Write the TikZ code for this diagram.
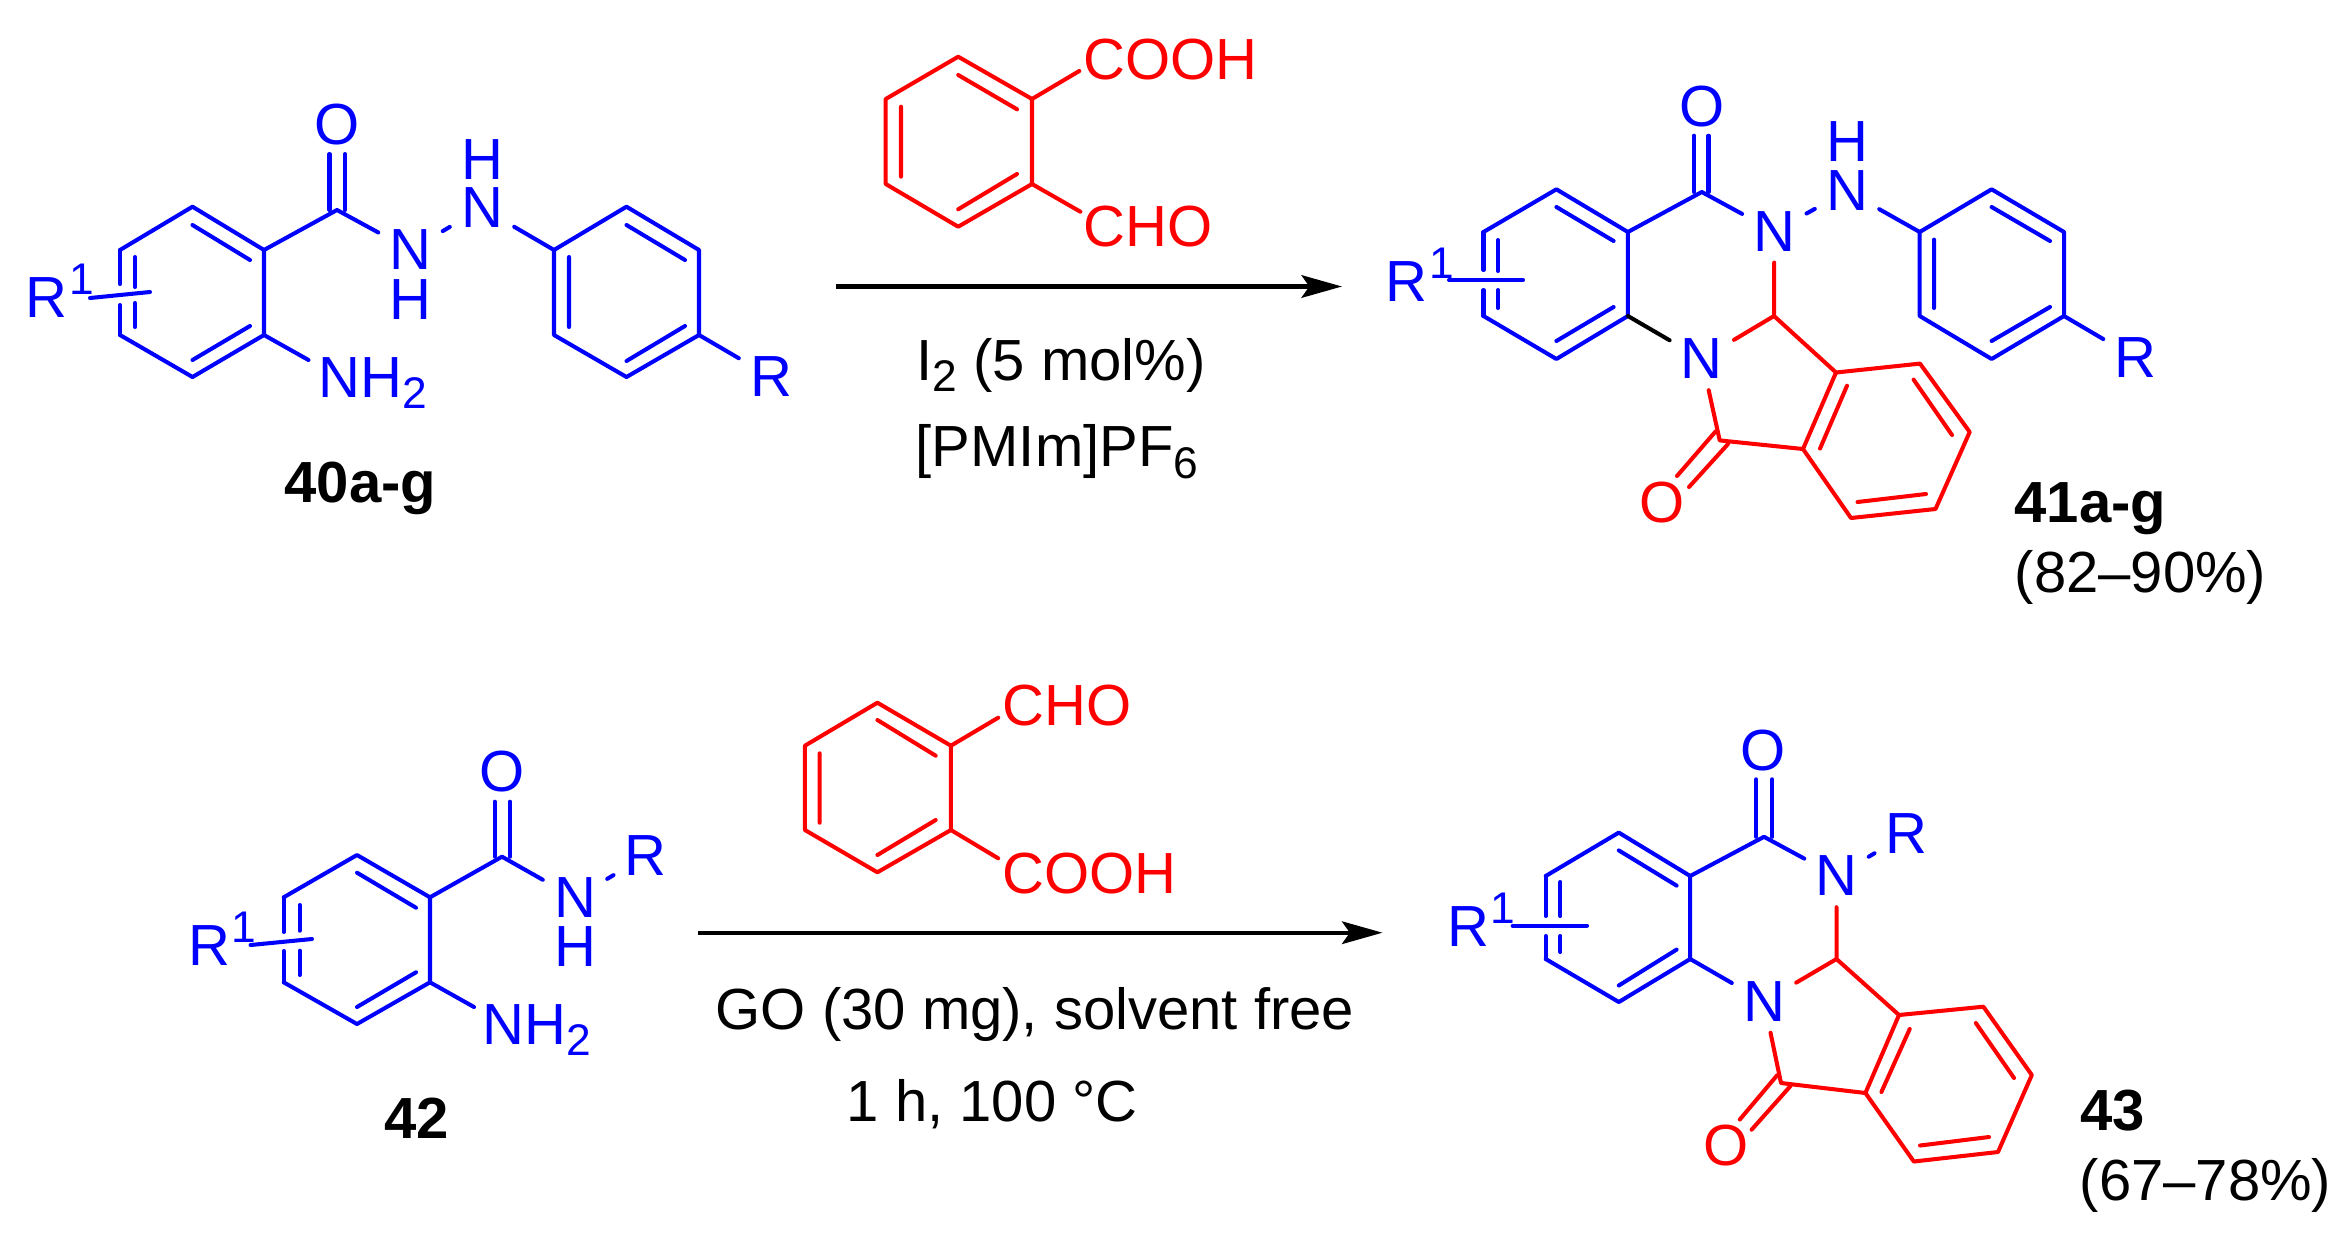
\documentclass[tikz,border=0pt]{standalone}
\usepackage{fontspec}
\setmainfont{Liberation Sans}
\usetikzlibrary{arrows.meta}
\definecolor{chemblue}{RGB}{0,0,255}
\definecolor{chemred}{RGB}{255,0,0}
\newcommand{\subnum}[1]{\raisebox{-3.4pt}{\fontsize{12.6}{13}\selectfont #1}}
\newcommand{\supnum}[1]{\kern0.5pt\raisebox{6.5pt}{\fontsize{12.6}{13}\selectfont #1}}
\tikzset{
  bondblue/.style={draw=chemblue,line width=1.15pt,line cap=round,line join=round},
  bondred/.style={draw=chemred,line width=1.15pt,line cap=round,line join=round},
  bondblack/.style={draw=black,line width=1.15pt,line cap=round},
  atomblue/.style={text=chemblue,inner sep=3pt,font=\fontsize{16.5}{19}\selectfont},
  atomred/.style={text=chemred,inner sep=3pt,font=\fontsize{16.5}{19}\selectfont},
  hydrogen/.style={text=chemblue,inner sep=0pt,font=\fontsize{16.5}{19}\selectfont},
  labelblue/.style={text=chemblue,inner sep=0pt,anchor=base west,font=\fontsize{16.5}{19}\selectfont},
  labelred/.style={text=chemred,inner sep=0pt,anchor=base west,font=\fontsize{16.5}{19}\selectfont},
  labelblack/.style={text=black,inner sep=0pt,anchor=base west,font=\fontsize{16.5}{19}\selectfont},
  labelbold/.style={labelblack,font=\fontsize{16.5}{19}\selectfont\bfseries},
  rxnarrow/.style={draw=black,line width=1.25pt,-{Stealth[length=11.5pt,width=6.4pt,inset=2.2pt]}}
}
\begin{document}
\begin{tikzpicture}[x=0.01cm,y=-0.01cm]
  \useasboundingbox (0,0) rectangle (2345,1236);

  % 40a-g
  \foreach \n/\p in {aa1/{192.5,206.7},aa2/{264,250},aa3/{264,335},aa4/{192.5,377},aa5/{120,335},aa6/{120,250},
                     ab1/{626.5,206.7},ab2/{699,250},ab3/{699,335},ab4/{626.5,377},ab5/{554,335},ab6/{554,250},
                     ac/{337,210},an/{308.5,360}}
    \coordinate (\n) at (\p);
  \node[atomblue] (aO) at (337,125) {O};
  \node[atomblue] (aN1) at (410.5,250) {N};
  \node[hydrogen] (aH1) at (410.5,300) {H};
  \node[atomblue] (aN2) at (482,208) {N};
  \node[hydrogen] (aH2) at (482,160) {H};
  \node[atomblue] (aR) at (771,377) {R};
  \node[labelblue] (aRone) at (25,317) {R\supnum{1}};
  \node[labelblue] (aNH) at (317.7,397) {NH\subnum{2}};
  \node[labelbold] (aname) at (284,502) {40a-g};
  \draw[bondblue] (aa6) -- (aa1) -- (aa2) -- (aa3) -- (aa4) -- (aa5);
  \draw[bondblue] (120,250) -- (120,284) (120,305) -- (120,335);
  \draw[bondblue] (135,257) -- (135,287) (135,303) -- (135,327);
  \draw[bondblue] (192.5,225) -- (250,260) (250,326) -- (192.5,360);
  \draw[bondblue] (90,298) -- (150,292);
  \draw[bondblue] (aa2) -- (ac) -- (aN1) -- (aN2) -- (ab6);
  \draw[bondblue] (329.5,210) -- (329.5,154) (345,210) -- (345,154);
  \draw[bondblue] (aa3) -- (an);
  \draw[bondblue] (ab6) -- (ab1) -- (ab2) -- (ab3) -- (ab4) -- (ab5) -- (ab6);
  \draw[bondblue] (626.5,225) -- (685,260) (569,257) -- (569,327) (685,326) -- (626.5,361);
  \draw[bondblue] (ab3) -- (aR);

  % first reagent and arrow
  \foreach \n/\p in {ra1/{958.2,56.7},ra2/{1032,99},ra3/{1032,184},ra4/{958.2,226.7},ra5/{885.7,184},ra6/{885.7,99},
                     rac/{1079.3,71},rad/{1080.4,211.7},arra/{836.4,286.5},arrb/{1342,286.5}}
    \coordinate (\n) at (\p);
  \draw[bondred] (ra1) -- (ra2) -- (ra3) -- (ra4) -- (ra5) -- (ra6) -- cycle;
  \draw[bondred] (958.2,75) -- (1017,109.3) (901,106.7) -- (901,176.7) (1017,174) -- (958.2,209.3);
  \draw[bondred] (ra2) -- (rac) (ra3) -- (rad);
  \node[labelred] (raacid) at (1083,79) {COOH};
  \node[labelred] (raald) at (1083,246.7) {CHO};
  \draw[rxnarrow] (arra) -- (arrb);
  \node[labelblack] (cata) at (916,380) {I\subnum{2} (5 mol\%)};
  \node[labelblack] (solva) at (915,466.7) {[PMIm]PF\subnum{6}};

  % 41a-g
  \foreach \n/\p in {ba1/{1556.4,189.3},ba2/{1627.9,232},ba3/{1627.9,316},ba4/{1556.4,359},ba5/{1483.5,316},ba6/{1483.5,232},
                     bb1/{1991.6,189.3},bb2/{2064,232},bb3/{2064,316},bb4/{1991.6,359},bb5/{1919.7,316},bb6/{1919.7,232},
                     bc1/{1836,372.5},bc2/{1920,363.6},bc3/{1969.7,432},bc4/{1935.5,509},bc5/{1851,518},bc6/{1803,449},
                     bd/{1701.8,192},be/{1774,316},bf/{1719.7,440.4}}
    \coordinate (\n) at (\p);
  \node[atomblue] (bO) at (1701.8,106.4) {O};
  \node[atomblue] (bN1) at (1774.3,231.4) {N};
  \node[atomblue] (bN2) at (1847,191) {N};
  \node[hydrogen] (bH) at (1847,142) {H};
  \node[atomblue] (bN3) at (1701.8,359) {N};
  \node[atomblue] (bR) at (2135.5,358) {R};
  \node[atomred] (bOr) at (1662,503) {O};
  \node[labelblue] (bRone) at (1385,301) {R\supnum{1}};
  \node[labelbold] (bname) at (2014,522.5) {41a-g};
  \node[labelblack] (byield) at (2014,592) {(82--90\%)};
  \draw[bondblue] (ba6) -- (ba1) -- (ba2) -- (ba3) -- (ba4) -- (ba5);
  \draw[bondblue] (1483.5,232) -- (1483.5,270) (1483.5,290) -- (1483.5,316);
  \draw[bondblue] (1498,240) -- (1498,271) (1498,290) -- (1498,308);
  \draw[bondblue] (1556.4,207) -- (1613.6,241) (1613.6,307) -- (1556.4,341);
  \draw[bondblue] (1449,280) -- (1523,280);
  \draw[bondblue] (ba2) -- (bd) -- (bN1) -- (bN2) -- (bb6);
  \draw[bondblue] (1694,192) -- (1694,135.7) (1708.5,192) -- (1708.5,135.7);
  \draw[bondblue] (bb6) -- (bb1) -- (bb2) -- (bb3) -- (bb4) -- (bb5) -- (bb6);
  \draw[bondblue] (1991.6,207) -- (2050,241) (1934,239.6) -- (1934,308) (2050,307) -- (1991.6,341);
  \draw[bondblue] (bb3) -- (bR);
  \draw[bondblack] (ba3) -- (bN3);
  \draw[bondred] (bN1) -- (be) -- (bN3);
  \draw[bondred] (be) -- (bc1);
  \draw[bondred] (bc1) -- (bc2) -- (bc3) -- (bc4) -- (bc5) -- (bc6) -- cycle;
  \draw[bondred] (1847,385.7) -- (1820,448.6) (1913.6,379.6) -- (1952,435) (1926,494) -- (1857.5,502);
  \draw[bondred] (bN3) -- (bf) -- (bc6);
  \draw[bondred] (1715.6,431.4) -- (1677,476) (1728,444) -- (1689,487);

  % 42
  \foreach \n/\p in {ca1/{357,855},ca2/{430,897.3},ca3/{430,982.3},ca4/{357,1024},ca5/{283.7,982.3},ca6/{283.7,897.3},
                     cc/{502,856.7},cn/{474,1007}}
    \coordinate (\n) at (\p);
  \node[atomblue] (cO) at (502,772) {O};
  \node[atomblue] (cN) at (575,898) {N};
  \node[hydrogen] (cH) at (575,946.7) {H};
  \node[atomblue] (cR) at (645.7,856) {R};
  \node[labelblue] (cRone) at (187.5,965.7) {R\supnum{1}};
  \node[labelblue] (cNH) at (482,1044) {NH\subnum{2}};
  \node[labelbold] (cname) at (384,1138) {42};
  \draw[bondblue] (ca6) -- (ca1) -- (ca2) -- (ca3) -- (ca4) -- (ca5);
  \draw[bondblue] (283.7,897.3) -- (283.7,932) (283.7,951) -- (283.7,982.3);
  \draw[bondblue] (299.6,905) -- (299.6,930.7) (299.6,950.7) -- (299.6,975);
  \draw[bondblue] (357,872.7) -- (416,907.7) (416,972.3) -- (357,1007);
  \draw[bondblue] (250.6,945) -- (312,939);
  \draw[bondblue] (ca2) -- (cc) -- (cN) -- (cR);
  \draw[bondblue] (494.7,856.7) -- (494.7,801.7) (510,856.7) -- (510,801.7);
  \draw[bondblue] (ca3) -- (cn);

  % second reagent and arrow
  \foreach \n/\p in {rb1/{877.4,702.7},rb2/{950.9,745.7},rb3/{950.9,830},rb4/{877.4,872.3},rb5/{804.9,830},rb6/{804.9,745.7},
                     rbc/{998.2,717.7},rbd/{998.2,858.3},arrc/{698.4,932.7},arrd/{1382.5,932.7}}
    \coordinate (\n) at (\p);
  \draw[bondred] (rb1) -- (rb2) -- (rb3) -- (rb4) -- (rb5) -- (rb6) -- cycle;
  \draw[bondred] (877.4,720) -- (935.7,755.7) (819.6,753.3) -- (819.6,822.7) (935.7,820) -- (877.4,855);
  \draw[bondred] (rb2) -- (rbc) (rb3) -- (rbd);
  \node[labelred] (rbald) at (1002,725) {CHO};
  \node[labelred] (rbacid) at (1002,893.3) {COOH};
  \draw[rxnarrow] (arrc) -- (arrd);
  \node[labelblack] (catb) at (715,1029.3) {GO (30 mg), solvent free};
  \node[labelblack] (solvb) at (846,1121.7) {1 h, 100 °C};

  % 43
  \foreach \n/\p in {da1/{1618.8,832.6},da2/{1690.2,876},da3/{1690.2,959},da4/{1618.8,1002},da5/{1545.7,959},da6/{1545.7,876},
                     dc1/{1899,1015},dc2/{1983.4,1006.7},dc3/{2031.8,1075},dc4/{1998,1152},dc5/{1913.8,1161.5},dc6/{1865.4,1093},
                     dd/{1764,836.8},de/{1836.5,959},df/{1781,1083}}
    \coordinate (\n) at (\p);
  \node[atomblue] (dO) at (1763.4,750.6) {O};
  \node[atomblue] (dN1) at (1836.5,876) {N};
  \node[atomblue] (dR) at (1906.7,834) {R};
  \node[atomblue] (dN2) at (1764,1001.5) {N};
  \node[atomred] (dOr) at (1725.6,1146) {O};
  \node[labelblue] (dRone) at (1446.5,946.8) {R\supnum{1}};
  \node[labelbold] (dname) at (2080,1130) {43};
  \node[labelblack] (dyield) at (2079,1200.8) {(67--78\%)};
  \draw[bondblue] (da6) -- (da1) -- (da2) -- (da3) -- (da4) -- (da5);
  \draw[bondblue] (1545.7,876) -- (1545.7,916) (1545.7,936) -- (1545.7,959);
  \draw[bondblue] (1560.4,882) -- (1560.4,916) (1560.4,936) -- (1560.4,952);
  \draw[bondblue] (1618.8,850.4) -- (1676.6,885.6) (1676.6,949.6) -- (1618.8,985.5);
  \draw[bondblue] (1512.6,925.6) -- (1587,925.6);
  \draw[bondblue] (da2) -- (dd) -- (dN1) -- (dR);
  \draw[bondblue] (1756.3,836.8) -- (1756.3,779.3) (1772.2,836.8) -- (1772.2,779.3);
  \draw[bondblue] (da3) -- (dN2);
  \draw[bondred] (dN1) -- (de) -- (dN2);
  \draw[bondred] (de) -- (dc1);
  \draw[bondred] (dc1) -- (dc2) -- (dc3) -- (dc4) -- (dc5) -- (dc6) -- cycle;
  \draw[bondred] (1909.7,1029) -- (1881.4,1092) (1975.8,1023) -- (2014,1078) (1989,1137) -- (1920,1145.5);
  \draw[bondred] (dN2) -- (df) -- (dc6);
  \draw[bondred] (1777,1075.4) -- (1739.8,1119.5) (1790.5,1086) -- (1751.6,1129.7);
\end{tikzpicture}
\end{document}
